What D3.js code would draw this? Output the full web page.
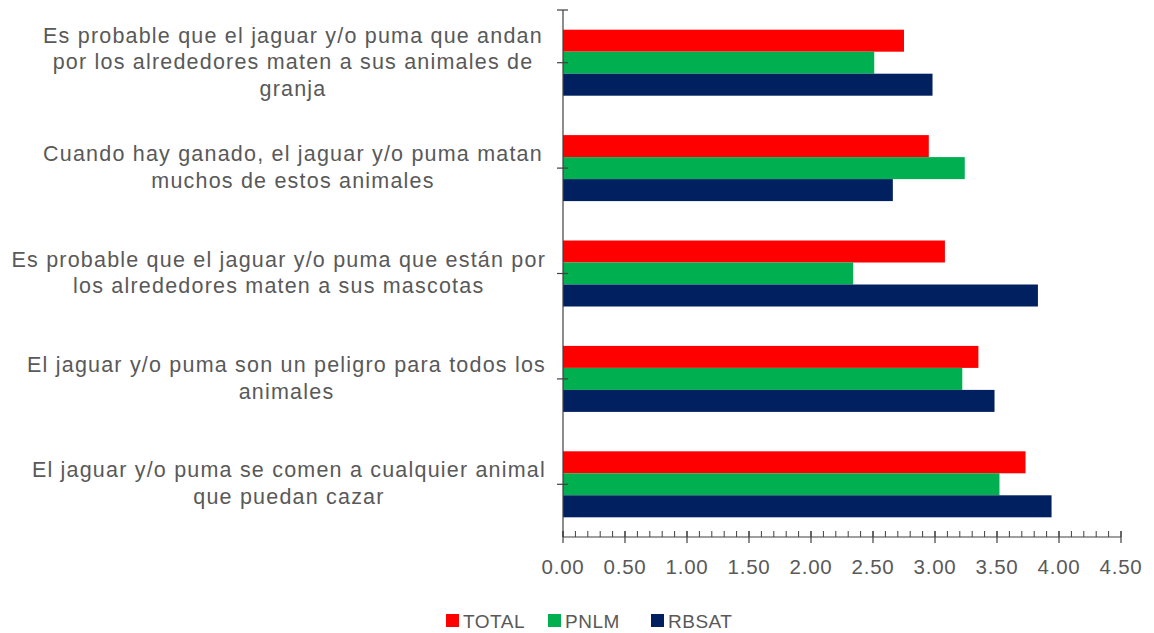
<!DOCTYPE html>
<html>
<head>
<meta charset="utf-8">
<script src="https://cdn.jsdelivr.net/npm/d3@7"></script>
<style>
  html, body { margin: 0; padding: 0; background: #fff; }
  svg { display: block; }
  text { font-family: "Liberation Sans", Arial, sans-serif; fill: #595959; }
</style>
</head>
<body>
<svg id="chart" width="1154" height="633"></svg>
<script>
// ---- Data ----
const categories = [
  "Es probable que el jaguar y/o puma que andan|por los alrededores maten a sus animales de|granja",
  "Cuando hay ganado, el jaguar y/o puma matan|muchos de estos animales",
  "Es probable que el jaguar y/o puma que están por|los alrededores maten a sus mascotas",
  "El jaguar y/o puma son un peligro para todos los|animales",
  "El jaguar y/o puma se comen a cualquier animal|que puedan cazar"
];
const seriesNames = ["TOTAL", "PNLM", "RBSAT"];
const seriesColors = ["#FF0000", "#00B050", "#002060"];
const TOTAL = [2.75, 2.95, 3.08, 3.35, 3.73];
const PNLM  = [2.51, 3.24, 2.34, 3.22, 3.52];
const RBSAT = [2.98, 2.66, 3.83, 3.48, 3.94];
const xTicks = [0, 0.5, 1, 1.5, 2, 2.5, 3, 3.5, 4, 4.5];
const xMinorTicks = d3.range(0, 46).map(i => i / 10);

const seriesValues = [TOTAL, PNLM, RBSAT];

// ---- Layout ----
const svg = d3.select("#chart");
const plot = { left: 563, right: 1121, top: 10, bottom: 537 };

const x = d3.scaleLinear().domain([0, 4.5]).range([plot.left, plot.right]);
const p = 1 - 66 / 105.4;
const y0 = d3.scaleBand().domain(categories).range([plot.top, plot.bottom])
  .paddingInner(p).paddingOuter(p / 2);
const y1 = d3.scaleBand().domain(seriesNames).range([0, y0.bandwidth()]);

// ---- Bars ----
const groups = svg.append("g").selectAll("g")
  .data(categories).join("g")
  .attr("transform", d => `translate(0,${y0(d)})`);

groups.selectAll("rect")
  .data((d, i) => seriesNames.map((s, k) => ({ s, k, v: seriesValues[k][i] })))
  .join("rect")
  .attr("x", x(0))
  .attr("y", d => y1(d.s))
  .attr("width", d => x(d.v) - x(0))
  .attr("height", y1.bandwidth())
  .attr("fill", d => seriesColors[d.k]);

// ---- X axis ----
const axisColor = "#404040";
const xg = svg.append("g");
xg.append("line")
  .attr("x1", x(0)).attr("x2", x(4.5))
  .attr("y1", plot.bottom).attr("y2", plot.bottom)
  .attr("stroke", axisColor).attr("stroke-width", 1.2);
xg.selectAll("line.minor").data(xMinorTicks).join("line")
  .attr("class", "minor")
  .attr("x1", d => x(d)).attr("x2", d => x(d))
  .attr("y1", plot.bottom - 6).attr("y2", plot.bottom)
  .attr("stroke", axisColor).attr("stroke-width", 1);
xg.selectAll("line.major").data(xTicks).join("line")
  .attr("class", "major")
  .attr("x1", d => x(d)).attr("x2", d => x(d))
  .attr("y1", plot.bottom - 6).attr("y2", plot.bottom + 6)
  .attr("stroke", axisColor).attr("stroke-width", 1.2);
xg.selectAll("text").data(xTicks).join("text")
  .attr("x", d => x(d)).attr("y", 574)
  .attr("text-anchor", "middle")
  .style("font-size", "20.5px").style("letter-spacing", "0.8px")
  .text(d => d.toFixed(2));

// ---- Y axis ----
const yg = svg.append("g");
yg.append("line")
  .attr("x1", plot.left).attr("x2", plot.left)
  .attr("y1", plot.top).attr("y2", plot.bottom)
  .attr("stroke", axisColor).attr("stroke-width", 1.2);
const yTickPos = [plot.top].concat(categories.map(c => y0(c) + y0.bandwidth() / 2));
yg.selectAll("line.tick").data(yTickPos).join("line")
  .attr("class", "tick")
  .attr("x1", plot.left - 6).attr("x2", plot.left + 5)
  .attr("y1", d => d).attr("y2", d => d)
  .attr("stroke", axisColor).attr("stroke-width", 1.2);

const lineH = 26.7;
const labelCenter = 293, labelRightLimit = 546;
yg.selectAll("text.cat").data(categories).join("text")
  .attr("class", "cat")
  .attr("text-anchor", "middle")
  .style("font-size", "21.5px").style("letter-spacing", "1.2px")
  .each(function (d) {
    const lines = d.split("|");
    const cy = y0(d) + y0.bandwidth() / 2;
    const t = d3.select(this);
    const spans = lines.map((ln, i) => t.append("tspan")
      .attr("x", labelCenter)
      .attr("y", cy + (i - (lines.length - 1) / 2) * lineH + 6.5)
      .text(ln));
    const maxW = d3.max(spans, s => s.node().getComputedTextLength());
    const cx = Math.min(labelCenter, labelRightLimit - maxW / 2);
    spans.forEach(s => s.attr("x", cx));
  });

// ---- Legend ----
const legendX = [446, 548, 651];
const lg = svg.append("g");
seriesNames.forEach((s, k) => {
  lg.append("rect")
    .attr("x", legendX[k]).attr("y", 614)
    .attr("width", 13).attr("height", 13)
    .attr("fill", seriesColors[k]);
  lg.append("text")
    .attr("x", legendX[k] + 17).attr("y", 628)
    .style("font-size", "19px").style("letter-spacing", "0.5px")
    .text(s);
});
</script>
</body>
</html>
